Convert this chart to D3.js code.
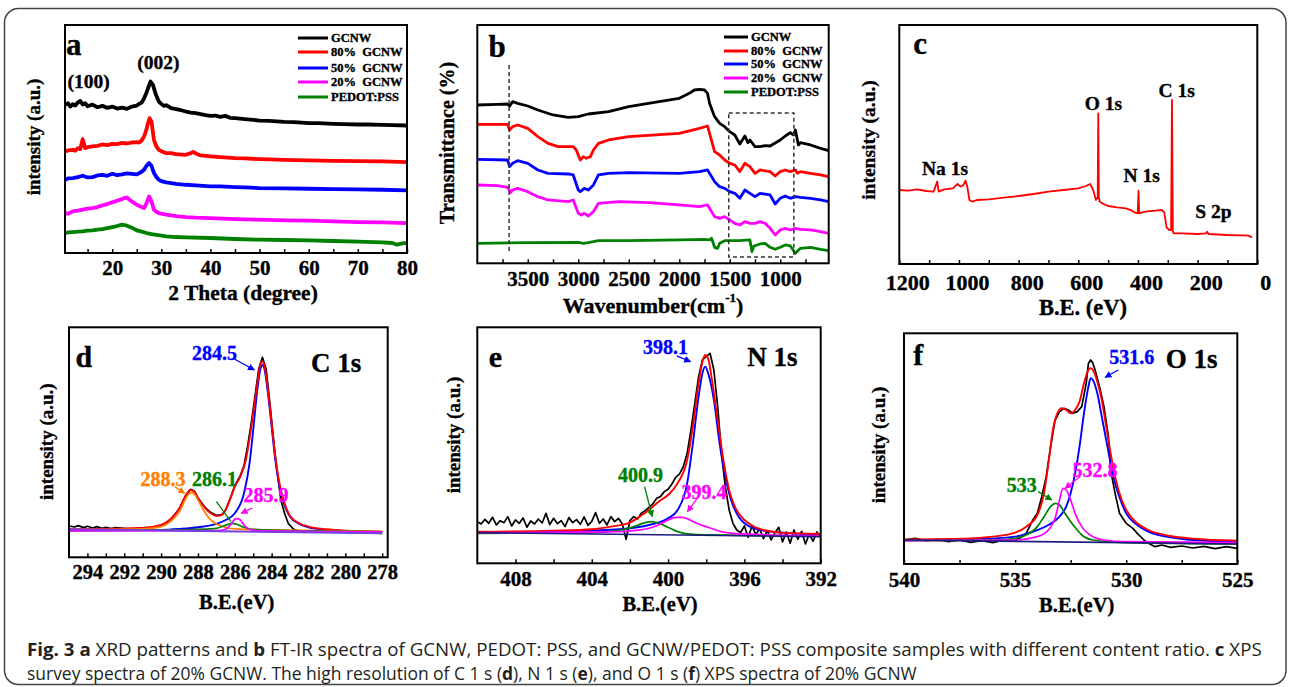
<!DOCTYPE html>
<html><head><meta charset="utf-8">
<script src="https://cdn.jsdelivr.net/npm/d3@7"></script>
<style>body{margin:0;background:#fff}svg{display:block}</style>
</head><body>
<script>
// ---------------- DATA ----------------
// (a) XRD, intensity a.u.
const xrdGCNW = [[10.5,445],[11,450],[11.5,440],[12,447],[12.5,443],[13,452],[13.5,457],[14,446],[14.5,450],[15,441],[16,446],[17,438],[18,442],[19,436],[20,440],[21,434],[22,437],[23,433],[24,440],[25,443],[25.5,448],[26,452],[26.5,465],[27,482],[27.3,495],[27.8,515],[28.3,505],[28.8,480],[29.2,465],[29.5,455],[30,448],[30.5,442],[31,444],[32,435],[33,432],[34,429],[35,425],[36,422],[37,420],[38,417],[39,414],[40,412],[41,413],[42,409],[43,412],[44,406],[45,405],[47,402],[50,398],[52,397],[55,394],[57,393],[60,390],[62,390],[65,388],[67,387],[70,386],[72,386],[75,385],[77,384],[80,383]];
const xrd80 = [[10.5,305],[11,308],[12,310],[12.5,307],[13,315],[13.5,312],[13.8,330],[14,342],[14.2,332],[14.5,315],[15,318],[16,320],[17,322],[18,326],[19,324],[20,328],[21,327],[22,331],[23,329],[24,332],[25,333],[25.5,332],[26,338],[26.5,350],[27,372],[27.2,385],[27.6,405],[28,395],[28.5,340],[29,320],[29.5,310],[30,306],[31,300],[32,300],[33,297],[35,295],[36,300],[36.5,304],[37,299],[38,293],[39,292],[40,290],[42,288],[45,285],[47,284],[50,282],[52,281],[55,280],[57,279],[60,278],[65,277],[70,276],[75,275],[80,273]];
const xrd50 = [[10.5,220],[11,224],[12,225],[13,228],[14,232],[15,227],[16,228],[17,233],[18,235],[19,232],[20,238],[21,234],[22,236],[23,239],[24,238],[25,236],[25.5,240],[26,244],[26.5,250],[27,262],[27.5,270],[28,262],[28.5,240],[29,228],[29.5,220],[30,216],[31,212],[32,210],[33,208],[35,205],[37,203],[40,200],[42,200],[45,198],[47,197],[50,195],[55,194],[60,193],[65,192],[70,191],[75,190],[80,188]];
const xrd20 = [[10.5,120],[11,118],[12,125],[13,127],[14,130],[15,133],[16,135],[17,138],[18,143],[19,147],[20,152],[21,157],[22,162],[22.5,165],[23,167],[23.5,160],[24,155],[25,145],[26,138],[26.5,135],[27,150],[27.5,170],[28,155],[28.5,130],[29,124],[29.5,120],[30,118],[31,115],[33,111],[35,108],[37,106],[40,105],[45,102],[50,100],[55,98],[60,97],[65,95],[70,93],[75,92],[80,90]];
const xrdPEDOT = [[10.5,60],[11,62],[12,63],[13,64],[14,65],[15,67],[16,68],[17,70],[18,72],[19,75],[20,78],[21,81],[22,85],[22.5,84],[23,82],[24,76],[25,68],[26,64],[27,60],[28,57],[30,52],[31,50],[33,48],[35,47],[40,45],[45,42],[50,40],[55,39],[60,38],[65,36],[70,34],[75,32],[77,30],[78,25],[79,29],[80,30]];
const xrdTicks = [15,20,25,30,35,40,45,50,55,60,65,70,75,80];
const xrdLabels = [20,30,40,50,60,70,80];

// (b) FT-IR, wavenumber / transmittance a.u.
const ftirGCNW = d3.zip([4000,3800,3700,3680,3650,3600,3500,3400,3250,3100,3000,2900,2700,2500,2200,2000,1900,1850,1800,1750,1720,1700,1650,1600,1550,1500,1450,1400,1350,1320,1300,1250,1200,1150,1100,1000,950,900,870,850,820,800,700,600,520],
  [475,477,478,472,485,480,472,460,445,438,440,448,455,470,485,495,510,520,522,520,510,480,440,420,410,395,385,358,382,362,370,350,350,353,352,370,382,392,385,400,355,362,355,345,338]);
const ftir80 = d3.zip([4000,3700,3680,3650,3600,3500,3400,3300,3200,3050,3020,2980,2950,2920,2880,2850,2800,2700,2500,2000,1800,1720,1700,1650,1600,1550,1500,1450,1400,1350,1300,1250,1200,1100,1050,1000,950,900,850,830,800,700,600,520],
  [417,417,400,410,415,405,380,360,350,350,340,310,320,315,320,340,360,370,380,390,405,412,390,335,325,310,300,295,275,300,290,270,280,275,262,275,280,275,280,270,275,270,265,260]);
const ftir50 = d3.zip([4000,3700,3680,3650,3600,3500,3400,3300,3100,3050,3000,2980,2940,2900,2850,2800,2700,2500,2000,1800,1720,1700,1650,1600,1550,1500,1450,1400,1350,1300,1250,1200,1100,1050,1000,950,900,850,800,700,600,520],
  [312,310,290,300,308,300,280,270,268,265,220,215,225,220,235,265,270,272,270,275,280,270,245,230,225,215,210,195,220,210,200,210,205,178,195,202,195,200,198,195,190,185]);
const ftir20 = d3.zip([4000,3800,3700,3670,3650,3600,3500,3400,3300,3100,3050,3000,2970,2940,2900,2850,2800,2600,2300,2000,1800,1720,1700,1650,1600,1550,1500,1450,1400,1350,1300,1250,1200,1150,1100,1050,1000,950,900,850,800,700,600,520],
  [235,233,228,212,220,225,215,200,190,185,190,150,145,150,142,155,180,185,182,175,170,175,165,140,135,140,130,120,115,125,120,120,125,120,105,85,100,105,100,105,102,100,95,90]);
const ftirPEDOT = d3.zip([4000,3500,3000,2950,2900,2800,2500,2000,1750,1700,1680,1650,1620,1600,1550,1500,1400,1300,1280,1260,1200,1150,1100,1050,1000,950,900,850,800,700,600,520],
  [60,62,63,60,62,68,68,70,72,70,75,48,45,60,68,68,68,70,35,52,58,60,48,42,48,55,52,30,45,48,42,38]);
const ftirTicks = [3750,3500,3250,3000,2750,2500,2250,2000,1750,1500,1250,1000,750];
const ftirLabels = [3500,3000,2500,2000,1500,1000];
const ftirMarkLine = 3685;          // dashed guide
const ftirBox = [1510, 865];        // dashed box range

// (c) XPS survey
const xpsSurvey = [[1200,222],[1170,220],[1140,224],[1110,219],[1085,217],[1073,247],[1068,217],[1050,224],[1020,227],[1005,240],[995,232],[985,237],[978,250],[972,232],[965,192],[955,187],[940,192],[900,194],[850,199],[800,204],[750,210],[700,217],[650,222],[600,227],[575,234],[560,240],[550,222],[541,192],[535,200],[533,452],[531,200],[528,187],[520,182],[500,174],[470,170],[440,167],[420,160],[410,154],[401,152],[398,220],[396,152],[385,155],[370,158],[340,160],[320,162],[312,155],[304,110],[295,102],[289,102],[286,492],[283,97],[280,92],[250,92],[200,90],[172,92],[168,97],[164,90],[100,87],[50,86],[30,85],[18,80]];
const surveyTicks = [1200,1100,1000,900,800,700,600,500,400,300,200,100,0];
const surveyLabels = [1200,1000,800,600,400,200,0];
const surveyPeaks = [["Na 1s",1046.8,287],["O 1s",516,482],["N 1s",387.4,265],["C 1s",270,522],["S 2p",147.4,157]];

// (d) C 1s
const c1sRaw = [[295,94],[294.7,91],[294.5,95],[294.2,89],[294,93],[293.7,88],[293.5,92],[293.2,87],[293,90],[292.7,86],[292.5,89],[292,87],[291.5,86],[291,88],[290.5,90],[290,95],[289.7,104],[289.5,112],[289.3,125],[289,147],[288.7,182],[288.4,204],[288.2,199],[288,179],[287.6,149],[287.3,134],[287,126],[286.7,128],[286.5,142],[286.2,184],[286,215],[285.7,245],[285.5,275],[285.3,335],[285.1,405],[284.9,485],[284.7,565],[284.5,600],[284.3,565],[284.1,465],[284,410],[283.8,302],[283.5,172],[283.3,132],[283.1,102],[282.8,84],[282.5,78],[282,77],[281,76],[280,75],[279,74],[278,72]];
const c1sEnvelope = [[295,84],[291,88],[290,97],[289.5,114],[289,147],[288.7,182],[288.4,202],[288.2,197],[288,177],[287.6,147],[287.3,132],[287,124],[286.7,127],[286.5,142],[286.2,182],[286,212],[285.7,242],[285.4,292],[285.1,392],[284.8,512],[284.6,582],[284.5,587],[284.4,577],[284.2,502],[284,402],[283.8,302],[283.5,202],[283.2,147],[283,124],[282.5,102],[282,92],[281,84],[280,80],[278,77]];
const c1s2845 = [[295,80],[290,82],[289,85],[288,90],[287,100],[286.5,112],[286,132],[285.5,192],[285.2,282],[285,382],[284.8,492],[284.6,567],[284.5,577],[284.4,567],[284.2,492],[284,392],[283.8,292],[283.5,192],[283.2,142],[283,122],[282.5,100],[282,90],[281,82],[280,79],[278,76]];
const c1s2883 = [[295,82],[291,85],[290,92],[289.5,107],[289,137],[288.7,172],[288.4,194],[288.2,190],[288,172],[287.7,142],[287.3,112],[287,100],[286.5,90],[286,85],[284,82],[280,79],[278,77]];
const c1s2861 = [[295,80],[289,82],[288,84],[287,87],[286.6,94],[286.3,100],[286.1,102],[285.9,99],[285.6,92],[285.2,85],[284.5,82],[282,79],[278,76]];
const c1s2859 = [[295,79],[287,80],[286.5,84],[286.2,100],[286,114],[285.9,116],[285.7,112],[285.5,97],[285.2,84],[284.8,80],[278,76]];
const c1sBase = [[295,84],[278,72]];
const c1sTicks = d3.range(294,277.5,-1);
const c1sLabels = [294,292,290,288,286,284,282,280,278];

// (e) N 1s
const n1sRaw = [[410,125],[409.8,118],[409.6,132],[409.4,120],[409.2,138],[409,115],[408.8,128],[408.6,122],[408.4,140],[408.2,112],[408,130],[407.8,120],[407.6,136],[407.4,108],[407.2,127],[407,118],[406.8,133],[406.6,121],[406.4,150],[406.2,116],[406,135],[405.8,119],[405.6,128],[405.4,110],[405.2,137],[405,122],[404.8,131],[404.6,117],[404.4,139],[404.2,114],[404,126],[403.8,152],[403.6,120],[403.4,133],[403.2,115],[403,140],[402.8,125],[402.6,135],[402.4,118],[402.2,72],[402,128],[401.8,140],[401.6,133],[401.4,150],[401.2,158],[401,168],[400.8,178],[400.6,195],[400.4,200],[400.2,215],[400,222],[399.8,238],[399.6,258],[399.4,268],[399.2,290],[399,330],[398.8,400],[398.6,480],[398.4,560],[398.2,610],[398,620],[397.8,630],[397.6,580],[397.4,470],[397.2,330],[397,230],[396.8,160],[396.6,120],[396.4,100],[396.2,92],[396,112],[395.8,78],[395.6,112],[395.4,86],[395.2,104],[395,74],[394.8,98],[394.6,70],[394.4,92],[394.2,108],[394,64],[393.8,94],[393.6,60],[393.4,100],[393.2,72],[393,96],[392.8,58],[392.6,88],[392.4,66],[392.2,94],[392,80]];
const n1sEnvelope = [[410,95],[406,98],[404,102],[403,110],[402,122],[401.5,140],[401,160],[400.5,185],[400,205],[399.5,240],[399,310],[398.7,410],[398.4,540],[398.2,605],[398.05,625],[397.9,615],[397.7,550],[397.4,430],[397.1,310],[396.8,220],[396.5,170],[396,130],[395.5,110],[395,100],[394,92],[392,88]];
const n1s3981 = [[410,92],[404,98],[402,105],[401,115],[400,135],[399.5,160],[399,240],[398.7,360],[398.4,500],[398.2,570],[398.05,590],[397.9,570],[397.6,490],[397.3,360],[397,260],[396.7,190],[396.3,140],[396,120],[395.5,105],[395,98],[394,92],[392,86]];
const n1s4009 = [[410,90],[404,92],[402.5,100],[401.8,110],[401.2,122],[400.9,125],[400.5,120],[400,108],[399.5,95],[399,88],[398,85],[392,82]];
const n1s3994 = [[410,92],[403,94],[402,97],[401,105],[400.5,115],[400,130],[399.6,138],[399.3,138],[399,134],[398.5,120],[398,110],[397.5,100],[397,93],[396,88],[392,82]];
const n1sBase = [[410,92],[392,80]];
const n1sTicks = [408,406,404,402,400,398,396,394,392];
const n1sLabels = [408,404,400,396,392];

// (f) O 1s
const o1sRaw = d3.zip([540,539.5,539,538.5,538,537.5,537,536.5,536,535.5,535,534.7,534.5,534.2,534,533.8,533.6,533.4,533.2,533,532.8,532.6,532.4,532.2,532,531.8,531.7,531.6,531.5,531.4,531.2,531,530.8,530.7,530.5,530.3,530.1,530,529.7,529.5,529.2,529,528.7,528.4,528,527.5,527,526.5,526,525.5,525],
  [72,77,70,74,67,72,65,70,64,72,70,82,92,132,152,202,262,352,432,457,467,462,452,457,472,542,602,612,602,582,532,472,382,282,212,152,132,122,107,92,72,62,52,57,50,54,48,53,46,52,47]);
const o1sEnvelope = [[540,74],[537,77],[536,82],[535,94],[534.5,112],[534,147],[533.7,212],[533.5,302],[533.3,402],[533.1,452],[532.9,467],[532.7,462],[532.5,452],[532.3,462],[532.1,487],[531.9,542],[531.7,582],[531.6,587],[531.5,582],[531.3,547],[531.1,492],[530.9,412],[530.7,332],[530.5,262],[530.2,192],[530,162],[529.5,122],[529,102],[528,84],[527,76],[525,70]];
const o1s5316 = [[540,72],[537,74],[535,82],[534,102],[533.5,117],[533,142],[532.7,172],[532.5,212],[532.3,272],[532.1,352],[531.9,452],[531.7,532],[531.6,557],[531.5,552],[531.3,512],[531.1,442],[530.9,372],[530.7,302],[530.5,242],[530.2,182],[530,152],[529.5,117],[529,97],[528,80],[527,72],[525,67]];
const o1s533 = [[540,70],[536,72],[535,77],[534.5,87],[534,112],[533.7,142],[533.4,172],[533.2,182],[533,177],[532.8,157],[532.5,127],[532.2,102],[532,87],[531.5,72],[530,64],[525,60]];
const o1s5328 = [[540,70],[535,72],[534,82],[533.5,102],[533.2,137],[533,192],[532.85,227],[532.7,222],[532.5,192],[532.3,152],[532,112],[531.5,82],[531,72],[530,67],[525,64]];
const o1sBase = [[540,72],[525,60]];
const o1sTicks = [540,537.5,535,532.5,530,527.5,525];
const o1sLabels = [540,535,530,525];

const legendNames = ["GCNW","80%  GCNW","50%  GCNW","20%  GCNW","PEDOT:PSS"];
const legendColors = ["#000000","#ff0000","#0000ff","#ff00ff","#008000"];

// ---------------- DRAWING ----------------
const W = 1290, H = 687;
const FONT = "'Liberation Serif','Times New Roman',serif";
const svg = d3.select("body").append("svg").attr("width", W).attr("height", H);

svg.append("rect").attr("x",4.5).attr("y",8.5).attr("width",1281.5).attr("height",676)
  .attr("rx",14).attr("fill","none").attr("stroke","#444").attr("stroke-width",1.5);

const defs = svg.append("defs");
function marker(id, color){
  defs.append("marker").attr("id",id).attr("viewBox","0 0 10 10").attr("refX",9).attr("refY",5)
    .attr("markerWidth",7).attr("markerHeight",7).attr("markerUnits","userSpaceOnUse").attr("orient","auto")
    .append("path").attr("d","M0,0L10,5L0,10z").attr("fill",color);
}
marker("mBlue","#0000ff"); marker("mOrange","#ff8000"); marker("mMag","#ff00ff"); marker("mGreen","#008000");

function heavy(sel, color){ return sel.attr("stroke",color||"#000").attr("stroke-width",0.35); }

function makePanel(o){
  const x = d3.scaleLinear().domain(o.xDomain).range([o.left,o.right]);
  const y = d3.scaleLinear().domain(o.yDomain).range([o.bottom,o.top]);
  const g = svg.append("g");
  const ax = g.append("g").attr("transform",`translate(0,${o.bottom})`)
    .call(d3.axisBottom(x).tickValues(o.ticks).tickSize(-o.tickLen).tickPadding(o.pad)
      .tickFormat(d => o.labels.includes(d) ? String(d) : ""));
  ax.select(".domain").remove();
  ax.selectAll("line").attr("stroke","#000").attr("stroke-width",1.5);
  heavy(ax.selectAll("text").attr("font-family",FONT).attr("font-weight","bold")
    .attr("font-size",o.tickFont).attr("fill","#000").attr("dx",o.labelShift||0));
  const lines = g.append("g");
  const top = g.append("g");
  g.append("rect").attr("x",o.left).attr("y",o.top).attr("width",o.right-o.left).attr("height",o.bottom-o.top)
    .attr("fill","none").attr("stroke","#000").attr("stroke-width",2);
  if(o.xLabel) heavy(g.append("text").attr("x",o.xTitle[0]).attr("y",o.xTitle[1]).attr("text-anchor","middle")
    .attr("dominant-baseline","central").attr("font-family",FONT).attr("font-weight","bold")
    .attr("font-size",o.titleFont).text(o.xLabel));
  heavy(g.append("text").attr("transform",`translate(${o.yTitle[0]},${o.yTitle[1]}) rotate(-90)`)
    .attr("text-anchor","middle").attr("dominant-baseline","central").attr("font-family",FONT)
    .attr("font-weight","bold").attr("font-size",o.yTitleFont||19).text(o.yLabel));
  return {g, x, y, lines, top};
}
function draw(p, data, color, width, smooth){
  p.lines.append("path").datum(data)
    .attr("d", d3.line().x(d=>p.x(d[0])).y(d=>p.y(d[1])).curve(smooth ? d3.curveMonotoneX : d3.curveLinear))
    .attr("fill","none").attr("stroke",color).attr("stroke-width",width).attr("stroke-linejoin","round");
}
function label(p, txt, xv, yv, size, color, anchor){
  return heavy(p.top.append("text").attr("x",p.x(xv)).attr("y",p.y(yv)).attr("text-anchor",anchor||"middle")
    .attr("dominant-baseline","central").attr("font-family",FONT).attr("font-weight","bold")
    .attr("font-size",size).attr("fill",color||"#000").text(txt), color);
}
function arrow(p, x1,y1,x2,y2,color,mk){
  const l = p.top.append("line").attr("x1",p.x(x1)).attr("y1",p.y(y1)).attr("x2",p.x(x2)).attr("y2",p.y(y2))
    .attr("stroke",color).attr("stroke-width",1.3);
  if(mk) l.attr("marker-end",`url(#${mk})`);
}
function legend(p, x0, x1, ys){
  legendNames.forEach((n,i)=>{
    p.top.append("line").attr("x1",x0).attr("x2",x1).attr("y1",ys[i]).attr("y2",ys[i])
      .attr("stroke",legendColors[i]).attr("stroke-width",3);
    heavy(p.top.append("text").attr("x",x1+3).attr("y",ys[i]).attr("dominant-baseline","central")
      .attr("font-family",FONT).attr("font-weight","bold").attr("font-size",12.5)
      .attr("xml:space","preserve").style("white-space","pre").text(n));
  });
}

// ---- (a)
const pa = makePanel({xDomain:[10.4,80], yDomain:[0,685], left:65, right:407, top:25, bottom:253,
  ticks:xrdTicks, labels:xrdLabels, tickLen:4, pad:7, tickFont:21, titleFont:21.5,
  xLabel:"2 Theta (degree)", yLabel:"intensity (a.u.)", xTitle:[243,293], yTitle:[33,137]});
[xrdPEDOT, xrd20, xrd50, xrd80, xrdGCNW].forEach((s,i)=>draw(pa, s, legendColors[4-i], 3.8));
label(pa,"a",12.2,625,31);
label(pa,"(100)",15.2,514,19.5);
label(pa,"(002)",29.4,571,19.5);
legend(pa, 298, 328, [38,52,68,82,97]);

// ---- (b)
const pb = makePanel({xDomain:[4000,520], yDomain:[0,715], left:477.3, right:828.7, top:25, bottom:263.3,
  ticks:ftirTicks, labels:ftirLabels, tickLen:4, pad:7.5, tickFont:21, titleFont:21,
  xLabel:"", yLabel:"Transmittance (%)", yTitleFont:20, xTitle:[653,305], yTitle:[447,143]});
heavy(pb.g.append("text").attr("x",653).attr("y",305).attr("text-anchor","middle").attr("dominant-baseline","central")
  .attr("font-family",FONT).attr("font-weight","bold").attr("font-size",22)
  .call(t=>{t.append("tspan").text("Wavenumber(cm");
    t.append("tspan").attr("font-size",13).attr("dy",-8).text("-1");
    t.append("tspan").attr("dy",8).text(")");}));
[ftirPEDOT, ftir20, ftir50, ftir80, ftirGCNW].forEach((s,i)=>draw(pb, s, legendColors[4-i], 2.8));
pb.top.append("line").attr("x1",pb.x(ftirMarkLine)).attr("x2",pb.x(ftirMarkLine)).attr("y1",pb.y(595)).attr("y2",pb.y(31))
  .attr("stroke","#333").attr("stroke-width",1.5).attr("stroke-dasharray","4,3");
pb.top.append("rect").attr("x",pb.x(ftirBox[0])).attr("y",pb.y(451)).attr("width",pb.x(ftirBox[1])-pb.x(ftirBox[0]))
  .attr("height",pb.y(19)-pb.y(451)).attr("fill","none").attr("stroke","#333").attr("stroke-width",1.5).attr("stroke-dasharray","4,3");
label(pb,"b",3804,649,31);
legend(pb, 724, 748, [37,51,64,78,92]);

// ---- (c)
const pc = makePanel({xDomain:[1200,0], yDomain:[0,717], left:899.3, right:1257.3, top:25, bottom:264,
  ticks:surveyTicks, labels:surveyLabels, tickLen:4, pad:10, tickFont:22, titleFont:22.5, labelShift:8,
  xLabel:"B.E. (eV)", yLabel:"intensity (a.u.)", yTitleFont:19.5, xTitle:[1083,307], yTitle:[868,140]});
draw(pc, xpsSurvey, "#ff0000", 1.8);
surveyPeaks.forEach(d=>label(pc, d[0], d[1], d[2], 19.5));
label(pc,"c",1130,662,31);

// ---- (d)
const pd = makePanel({xDomain:[295,277.7], yDomain:[0,690], left:69, right:387.7, top:327.3, bottom:557.3,
  ticks:c1sTicks, labels:c1sLabels, tickLen:4, pad:7, tickFont:20.5, titleFont:20.5,
  xLabel:"B.E.(eV)", yLabel:"intensity (a.u.)", xTitle:[236.7,602], yTitle:[46.7,441.7]});
draw(pd, c1sRaw, "#000", 1.7);
draw(pd, c1s2845, "#0000ff", 1.9, true);
draw(pd, c1sEnvelope, "#ff0000", 1.9, true);
draw(pd, c1s2883, "#ff8000", 1.7, true);
draw(pd, c1s2861, "#008000", 1.7, true);
draw(pd, c1s2859, "#ff00ff", 1.7, true);
draw(pd, c1sBase, "#7b3fe4", 2);
label(pd,"d",294.2,602,30);
label(pd,"C 1s",280.5,582,27);
label(pd,"284.5",287.1,612,20,"#0000ff");
arrow(pd,286.0,594,284.94,562,"#0000ff","mBlue");
label(pd,"288.3",289.9,234,20,"#ff8000");
arrow(pd,289.26,212,288.72,192,"#ff8000","mOrange");
label(pd,"286.1",287.1,234,20,"#008000");
arrow(pd,287.0,167,286.2,107,"#008000");
label(pd,"285.9",284.3,187,20,"#ff00ff");
arrow(pd,285.04,148,285.65,132,"#ff00ff","mMag");

// ---- (e)
const pe = makePanel({xDomain:[410,392], yDomain:[0,708], left:477.3, right:820.7, top:327.3, bottom:563.3,
  ticks:n1sTicks, labels:n1sLabels, tickLen:4, pad:7.5, tickFont:21, titleFont:20.5,
  xLabel:"B.E.(eV)", yLabel:"intensity (a.u.)", xTitle:[660,603.5], yTitle:[453.3,435]});
draw(pe, n1sRaw, "#000", 1.7);
draw(pe, n1s3981, "#0000ff", 1.9, true);
draw(pe, n1sEnvelope, "#ff0000", 1.9, true);
draw(pe, n1s4009, "#008000", 1.7, true);
draw(pe, n1s3994, "#ff00ff", 1.7, true);
draw(pe, n1sBase, "#1a1a80", 1.6);
label(pe,"e",409.05,620,30);
label(pe,"N 1s",394.53,620,27);
label(pe,"398.1",400.13,650,20,"#0000ff");
arrow(pe,399.55,622,398.82,605,"#0000ff","mBlue");
label(pe,"400.9",401.44,265,20,"#008000");
arrow(pe,401.23,230,400.83,140,"#008000","mGreen");
label(pe,"399.4",398.12,215,20,"#ff00ff");
arrow(pe,398.47,195,398.99,155,"#ff00ff","mMag");

// ---- (f)
const pf = makePanel({xDomain:[540,525], yDomain:[0,692], left:904, right:1237.3, top:333.3, bottom:564,
  ticks:o1sTicks, labels:o1sLabels, tickLen:4, pad:8, tickFont:21, titleFont:20.5,
  xLabel:"B.E.(eV)", yLabel:"intensity (a.u.)", xTitle:[1076.7,605], yTitle:[878.3,445]});
draw(pf, o1sRaw, "#000", 1.7);
draw(pf, o1s5316, "#0000ff", 1.9, true);
draw(pf, o1sEnvelope, "#ff0000", 1.9, true);
draw(pf, o1s533, "#008000", 1.7, true);
draw(pf, o1s5328, "#ff00ff", 1.7, true);
draw(pf, o1sBase, "#1a1a80", 1.6);
label(pf,"f",539.36,627,30);
label(pf,"O 1s",527.05,614,27);
label(pf,"531.6",529.75,622,20,"#0000ff");
arrow(pf,530.36,582,530.95,560,"#0000ff","mBlue");
label(pf,"533",534.7,237,20,"#008000");
arrow(pf,533.96,217,533.35,192,"#008000","mGreen");
label(pf,"532.8",531.4,282,20,"#ff00ff");
arrow(pf,532.08,262,532.75,227,"#ff00ff","mMag");

// ---- caption
const cap1 = [["Fig. 3",1],[" ",0],["a",1],[" XRD patterns and ",0],["b",1],[" FT-IR spectra of GCNW, PEDOT: PSS, and GCNW/PEDOT: PSS composite samples with different content ratio. ",0],["c",1],[" XPS",0]];
const cap2 = [["survey spectra of 20% GCNW. The high resolution of C 1 s (",0],["d",1],["), N 1 s (",0],["e",1],["), and O 1 s (",0],["f",1],[") XPS spectra of 20% GCNW",0]];
function caption(parts, y, len){
  const t = svg.append("text").attr("x",0).attr("y",0).attr("font-family","'Open Sans','Noto Sans',sans-serif")
    .attr("font-size",17).attr("fill","#231f20").attr("xml:space","preserve");
  parts.forEach(p=>t.append("tspan").attr("font-weight",p[1]?"bold":"normal").text(p[0]));
  const w = t.node().getComputedTextLength();
  t.attr("transform",`translate(27,${y}) scale(${len/w},1.08)`);
}
caption(cap1, 656, 1235);
caption(cap2, 680, 890);
</script>
</body></html>
